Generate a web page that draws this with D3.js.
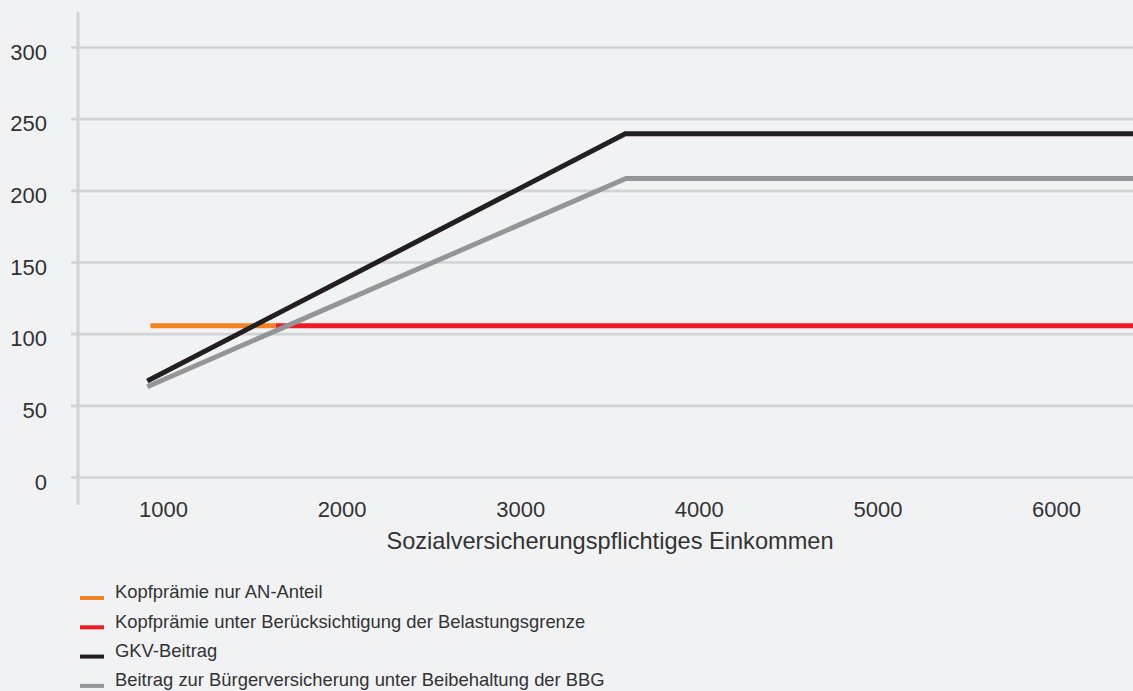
<!DOCTYPE html>
<html>
<head>
<meta charset="utf-8">
<script src="https://cdn.jsdelivr.net/npm/d3@7"></script>
<style>
  html, body { margin: 0; padding: 0; background: #f1f2f4; }
  svg { display: block; }
  text { font-family: "Liberation Sans", Arial, Helvetica, sans-serif; fill: #333; }
</style>
</head>
<body>
<svg id="chart" width="1133" height="691"></svg>
<script>
// Monthly contribution (EUR) by income subject to social insurance (EUR)
const xTicks = [1000, 2000, 3000, 4000, 5000, 6000];
const yTicks = [0, 50, 100, 150, 200, 250, 300];

// Flat-rate premium, employee share only
const kopfAN_income = [930, 1632];
const kopfAN_value = [105.5, 105.5];

// Flat-rate premium with burden limit
const kopfGrenze_income = [1632, 6450];
const kopfGrenze_value = [105.5, 105.5];

// Statutory health insurance contribution
const gkv_income = [912, 3588, 6450];
const gkv_value = [67, 239.4, 239.4];

// Citizens' insurance keeping the contribution ceiling
const buerger_income = [912, 3592, 6450];
const buerger_value = [63, 208.3, 208.3];

const seriesNames = [
  "Kopfprämie nur AN-Anteil",
  "Kopfprämie unter Berücksichtigung der Belastungsgrenze",
  "GKV-Beitrag",
  "Beitrag zur Bürgerversicherung unter Beibehaltung der BBG"
];
const seriesColors = ["#f58220", "#ed1c24", "#231f20", "#939598"];
const xTitle = "Sozialversicherungspflichtiges Einkommen";

const svg = d3.select("#chart");
const W = 1133, H = 691;
const axisX = 78;

const x = d3.scaleLinear().domain([1000, 6000]).range([163, 1056]);
const y = d3.scaleLinear().domain([0, 300]).range([477, 47]);

// Horizontal gridlines with value labels
const yAxis = svg.append("g")
  .attr("transform", `translate(${axisX},0)`)
  .call(d3.axisLeft(y).tickValues(yTicks).tickSize(7).tickPadding(24));
yAxis.select(".domain").remove();
yAxis.selectAll(".tick line")
  .attr("x1", -7).attr("x2", W - axisX)
  .attr("stroke", "#d2d3d5").attr("stroke-width", 2.6);
yAxis.selectAll(".tick text")
  .attr("dy", "0.55em")
  .style("font-size", "22px").attr("fill", "#333");

// Vertical axis line
svg.append("line")
  .attr("x1", axisX).attr("x2", axisX)
  .attr("y1", 12).attr("y2", 505)
  .attr("stroke", "#d2d3d5").attr("stroke-width", 3);

// Income labels along the bottom
const xAxis = svg.append("g")
  .attr("transform", "translate(0,500)")
  .call(d3.axisBottom(x).tickValues(xTicks).tickSize(0).tickPadding(0).tickFormat(d3.format("d")));
xAxis.select(".domain").remove();
xAxis.selectAll(".tick text")
  .attr("dy", "0.78em")
  .style("font-size", "22px").attr("fill", "#333");

svg.append("text")
  .attr("x", 610).attr("y", 549)
  .attr("text-anchor", "middle")
  .style("font-size", "23.6px")
  .text(xTitle);

// Series lines
const line = d3.line().x(d => x(d[0])).y(d => y(d[1]));
const seriesData = [
  d3.zip(kopfAN_income, kopfAN_value),
  d3.zip(kopfGrenze_income, kopfGrenze_value),
  d3.zip(gkv_income, gkv_value),
  d3.zip(buerger_income, buerger_value)
];
svg.append("g").selectAll("path")
  .data(seriesData)
  .join("path")
  .attr("d", line)
  .attr("fill", "none")
  .attr("stroke", (d, i) => seriesColors[i])
  .attr("stroke-width", 5)
  .attr("stroke-linejoin", "miter")
  .attr("stroke-linecap", "butt");

// Legend
const legend = svg.append("g").selectAll("g")
  .data(seriesNames)
  .join("g")
  .attr("transform", (d, i) => `translate(80,${592 + i * 29.3})`);
legend.append("rect")
  .attr("x", 0).attr("y", 4).attr("width", 24).attr("height", 4)
  .attr("fill", (d, i) => seriesColors[i]);
legend.append("text")
  .attr("x", 35).attr("y", 0).attr("dy", "0.35em")
  .style("font-size", "18.4px")
  .text(d => d);
</script>
</body>
</html>
